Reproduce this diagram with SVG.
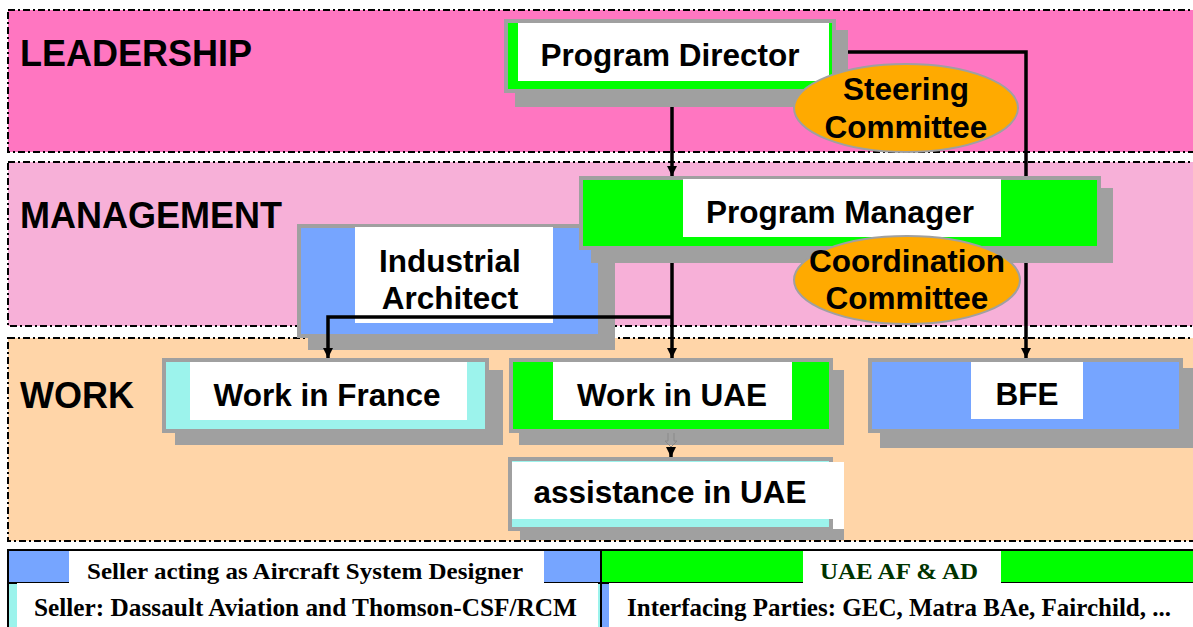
<svg xmlns="http://www.w3.org/2000/svg" width="1193" height="627" viewBox="0 0 1193 627">
<defs>
<style>
.band{stroke:#000;stroke-width:2;stroke-dasharray:7 3 2 3}
.shadow{fill:#a0a0a0}
.box{stroke:#a0a0a0;stroke-width:4}
.lbl{fill:#fff}
.t{font-family:"Liberation Sans",Arial,sans-serif;font-weight:bold;font-size:31.5px;fill:#000;text-anchor:middle}
.head{font-family:"Liberation Sans",Arial,sans-serif;font-weight:bold;font-size:36px;fill:#000}
.bt{font-family:"Liberation Serif","Times New Roman",serif;font-weight:bold;fill:#000}
.green{fill:#00ff00}
.blue{fill:#76a5ff}
.cyan{fill:#9cf3ec}
.ell{fill:#ffaa00;stroke:#a0a0a0;stroke-width:2}
.conn{fill:none;stroke:#000;stroke-width:3.5}
</style>
<marker id="arr" viewBox="0 0 10 10" refX="10" refY="5" markerWidth="10" markerHeight="12" orient="auto" markerUnits="userSpaceOnUse">
<path d="M0,0 L10,5 L0,10 z" fill="#000"/>
</marker>
</defs>
<rect width="1193" height="627" fill="#fff"/>

<g id="bands">
<rect class="band" x="8" y="10" width="1190" height="142" fill="#ff76c1"/>
<rect class="band" x="8" y="162" width="1190" height="164" fill="#f7b0d8"/>
<rect class="band" x="8" y="338" width="1190" height="203" fill="#ffd5a8"/>
<text class="head" x="20" y="66">LEADERSHIP</text>
<text class="head" x="20" y="228">MANAGEMENT</text>
<text class="head" x="20" y="408">WORK</text>
</g>

<g id="program-director">
<rect class="shadow" x="515" y="30" width="333" height="77"/>
<rect class="box green" x="506" y="21" width="328" height="70"/>
<rect class="lbl" x="518" y="23" width="311" height="58"/>
<text class="t" x="670" y="66">Program Director</text>
</g>

<g id="steering-committee">
<ellipse class="ell" cx="906" cy="108" rx="112" ry="44"/>
<text class="t" x="906" y="100">Steering</text>
<text class="t" x="906" y="138">Committee</text>
</g>

<g id="industrial-architect">
<rect class="shadow" x="308" y="237" width="307" height="113"/>
<rect class="box blue" x="299" y="226" width="301" height="110"/>
<rect class="lbl" x="355" y="227" width="198" height="96"/>
<text class="t" x="450" y="272">Industrial</text>
<text class="t" x="450" y="309">Architect</text>
</g>

<g id="program-manager">
<rect class="shadow" x="591" y="188" width="522" height="75"/>
<rect class="box green" x="581" y="178" width="518" height="70"/>
<rect class="lbl" x="683" y="179" width="318" height="58"/>
<text class="t" x="840" y="223">Program Manager</text>
</g>

<g id="coordination-committee">
<ellipse class="ell" cx="907" cy="280" rx="113" ry="44"/>
<text class="t" x="907" y="272">Coordination</text>
<text class="t" x="907" y="309">Committee</text>
</g>

<g id="work-france">
<rect class="shadow" x="175" y="370" width="328" height="75"/>
<rect class="box cyan" x="164" y="360" width="323" height="71"/>
<rect class="lbl" x="190" y="362" width="277" height="58"/>
<text class="t" x="327" y="406">Work in France</text>
</g>

<g id="work-uae">
<rect class="shadow" x="519" y="370" width="325" height="75"/>
<rect class="box green" x="511" y="360" width="320" height="71"/>
<rect class="lbl" x="553" y="362" width="239" height="58"/>
<text class="t" x="672" y="406">Work in UAE</text>
</g>

<g id="bfe">
<rect class="shadow" x="880" y="368" width="320" height="80"/>
<rect class="box blue" x="870" y="360" width="311" height="71"/>
<rect class="lbl" x="971" y="362" width="112" height="57"/>
<text class="t" x="1027" y="405">BFE</text>
</g>

<g id="assistance-uae">
<rect class="shadow" x="520" y="468" width="324" height="72"/>
<rect class="box cyan" x="510" y="459" width="321" height="70"/>
<rect class="lbl" x="512" y="462" width="332" height="57"/>
<rect class="lbl" x="833" y="473" width="11" height="56"/>
<text class="t" x="670" y="503">assistance in UAE</text>
</g>

<g id="connectors">
<path class="conn" d="M672,107 V176" marker-end="url(#arr)"/>
<path class="conn" d="M672,263 V358" marker-end="url(#arr)"/>
<path class="conn" d="M672,317 H328 V358" marker-end="url(#arr)"/>
<path class="conn" d="M848,52 H1026 V176 M1026,263 V358" marker-end="url(#arr)"/>
<path d="M668,433 V441 H665 L671,447 L677,441 H674 V433" fill="none" stroke="#8a8a8a" stroke-width="1"/>
<path class="conn" d="M671,447 V457" stroke-width="2" marker-end="url(#arr)"/>
</g>

<g id="legend">
<rect x="8" y="550" width="593" height="33" class="blue"/>
<rect x="8" y="583" width="593" height="44" class="cyan"/>
<rect x="602" y="550" width="591" height="33" class="green"/>
<rect x="602" y="583" width="591" height="44" class="blue"/>
<path d="M7,550 H1193 M7,583 H1193 M8,550 V627 M601,550 V627" stroke="#000" stroke-width="2" fill="none"/>
<rect class="lbl" x="69" y="551" width="475" height="32"/>
<rect class="lbl" x="17" y="583" width="581" height="44"/>
<rect class="lbl" x="803" y="551" width="198" height="32"/>
<rect class="lbl" x="609" y="583" width="584" height="44"/>
<text class="bt" x="87" y="579" font-size="24" textLength="436" lengthAdjust="spacingAndGlyphs">Seller acting as Aircraft System Designer</text>
<text class="bt" x="34" y="616" font-size="25" textLength="543" lengthAdjust="spacingAndGlyphs">Seller: Dassault Aviation and Thomson-CSF/RCM</text>
<text class="bt" x="820" y="579" font-size="24" style="fill:#003300" textLength="158" lengthAdjust="spacingAndGlyphs">UAE AF &amp; AD</text>
<text class="bt" x="627" y="616" font-size="25" textLength="544" lengthAdjust="spacingAndGlyphs">Interfacing Parties: GEC, Matra BAe, Fairchild, ...</text>
</g>
</svg>
